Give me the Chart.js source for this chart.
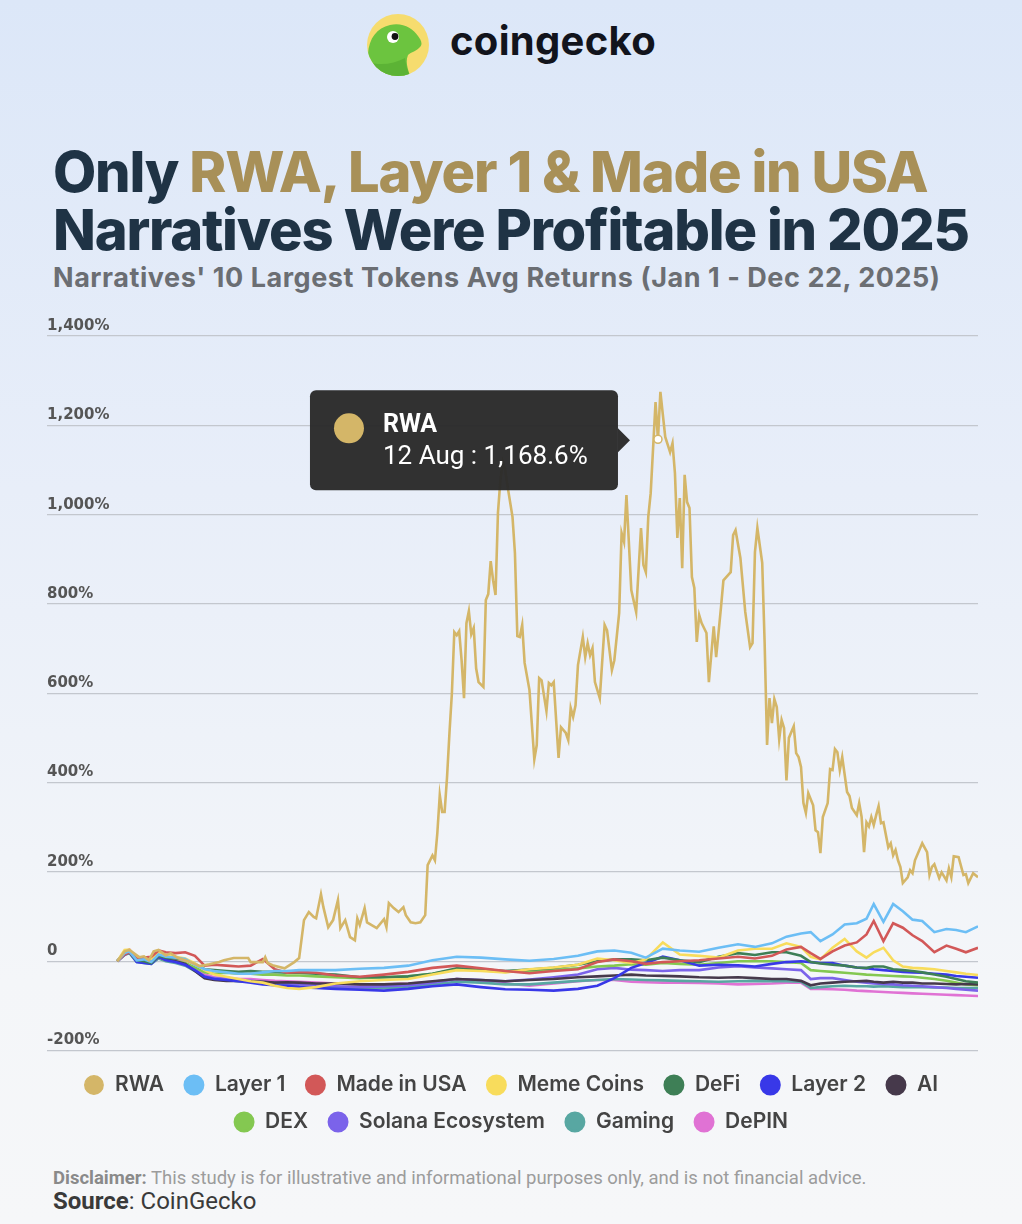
<!DOCTYPE html>
<html>
<head>
<meta charset="utf-8">
<script src="https://cdn.jsdelivr.net/npm/chart.js@4.4.1/dist/chart.umd.min.js"></script>
<style>
  html, body { margin: 0; padding: 0; }
  body {
    width: 1022px; height: 1224px; position: relative; overflow: hidden;
    background: linear-gradient(180deg, #dce7f8 0%, #e8eef9 40%, #f4f6f9 80%, #f6f7f9 100%);
    font-family: Inter, "Noto Sans", sans-serif;
  }
  .logo { position: absolute; left: 357px; top: 5px; }
  .brand { position: absolute; left: 450px; top: 17px; font: 700 40px/48px Inter; color: #12141c; letter-spacing: 0.3px; }
  h1 { position: absolute; left: 53px; top: 143px; margin: 0; font: 800 56px/58px Inter; color: #1f3345; letter-spacing: -1.2px; white-space: nowrap; }
  h1 .gold { color: #a89058; }
  .sub { position: absolute; left: 53px; top: 263px; font: 700 27px/30px Inter; color: #6b6e73; letter-spacing: 0.55px; white-space: nowrap; }
  #wrap { position: absolute; left: 0; top: 300px; width: 1022px; height: 860px; }
  .disc { position: absolute; left: 53px; top: 1167px; font: 18.5px/22px Roboto; color: #9c9c9c; white-space: nowrap; }
  .disc b { color: #8a8a8a; }
  .src { position: absolute; left: 53px; top: 1188px; font: 24px/26px Roboto; color: #3a3a3a; }
</style>
</head>
<body>
<svg class="logo" width="80" height="80" viewBox="357 5 80 80">
  <defs><clipPath id="cc"><circle cx="398" cy="45" r="31"/></clipPath></defs>
  <circle cx="398" cy="45" r="31" fill="#f6dc6e"/>
  <g clip-path="url(#cc)">
    <path d="M368 54 C369 38 377 28 390 25 C402 22 413 28 418 36 C421 40 423 44 420 47 C417 51 411 52 408 55 C405 62 408 70 411 78 C396 84 378 80 368 68 Z" fill="#6cc43f"/>
    <path d="M368 62 C380 66 394 64 405 58 C406 66 408 72 411 78 C396 84 378 80 368 68 Z" fill="#5cb335"/>
  </g>
  <circle cx="393" cy="37" r="6" fill="#fff"/>
  <circle cx="395" cy="36.5" r="3.4" fill="#111"/>
</svg>
<div class="brand">coingecko</div>
<h1>Only <span class="gold">RWA, Layer 1 &amp; Made in USA</span><br>Narratives Were Profitable in 2025</h1>
<div class="sub">Narratives' 10 Largest Tokens Avg Returns (Jan 1 - Dec 22, 2025)</div>
<div id="wrap"><canvas id="chart"></canvas></div>
<div class="disc"><b>Disclaimer:</b> This study is for illustrative and informational purposes only, and is not financial advice.</div>
<div class="src"><b>Source</b>: CoinGecko</div>
<script>
// days since Jan 1, 2025 ; values in % return
const rwaDays = [0,3,5,9,11,13,15,17,20,22,25,28,31,34,38,42,44,48,54,55,60,61,62,64,69,73,75,77,79,81,82,84,85,87,89,91,92,94,96,98,99,100,102,103,107,110,111,112,114,116,118,119,121,123,125,127,128,130,131,132,133,134,135,136,137,138,139,140,141,142,143,144,145,146,147,148,149,151,152,153,154,155,156,157,158,159,160,161,163,164,165,166,167,168,170,172,173,174,175,177,178,179,180,182,183,185,186,187,188,189,190,192,193,194,195,196,197,199,201,202,204,205,207,208,209,210,212,214,216,217,218,219,220,222,223,224,226,228,229,230,231,232,233,234,235,236,237,238,239,240,241,243,244,246,247,249,250,252,253,254,255,257,259,261,262,263,264,266,267,268,269,270,271,272,273,274,275,276,277,279,280,281,282,283,284,285,287,288,289,290,291,293,294,295,296,297,298,299,301,302,303,305,306,307,308,309,310,311,312,313,314,315,316,318,319,320,321,322,323,324,326,327,328,329,332,334,335,336,337,339,340,342,343,344,345,347,349,350,351,353,355];
const rwaValues = [0,22,25,9,11,2,22,25,13,18,7,2,-4,-11,-7,-2,2,7,7,-2,-2,9,-4,-9,-16,-2,7,92,110,99,96,150,121,76,92,137,74,92,54,47,96,81,119,87,74,94,76,130,119,110,121,103,87,85,87,103,215,237,226,287,372,334,334,412,511,600,737,730,739,674,589,757,784,732,746,656,625,614,809,822,896,853,820,1004,1077,1118,1100,1062,995,914,728,726,753,668,607,452,484,634,629,560,623,618,625,455,524,511,495,567,547,573,663,726,681,712,685,701,625,589,753,741,652,674,780,959,939,1044,831,782,970,887,871,995,1048,1252,1168.6,1275,1174,1140,1160,1093,948,1037,880,1089,1028,1015,860,836,715,775,757,735,625,750,681,793,853,865,871,954,965,903,782,703,712,916,970,892,712,484,589,533,587,569,497,540,522,405,500,526,466,457,435,354,332,376,349,293,289,242,323,354,430,428,475,468,428,457,379,370,343,327,354,323,244,311,302,323,305,327,347,309,311,255,264,237,249,226,211,175,188,204,197,226,264,244,193,211,217,186,199,181,208,188,235,233,193,195,175,197,188];

const gridDays = [0,3,5,8,11,14,17,20,24,28,32,36,40,45,50,55,60,65,70,75,82,90,100,110,120,130,140,150,160,170,180,190,198,205,212,218,225,232,240,248,256,263,270,276,282,286,290,295,300,305,309,312,316,320,324,328,332,337,342,346,350,355];
const layer1 = [0,18,22,2,4,-2,15,10,8,5,-8,-18,-22,-25,-28,-28,-25,-22,-22,-20,-20,-20,-17,-15,-10,2,10,8,4,1,5,12,22,24,19,8,28,24,21,30,38,32,40,55,62,65,45,60,82,85,95,128,88,128,112,93,90,65,72,70,65,78];
const madeInUsa = [0,15,20,5,8,10,24,20,18,20,12,-10,-8,-10,-12,-10,5,-18,-26,-24,-26,-32,-35,-30,-24,-15,-10,-16,-22,-27,-22,-18,-2,4,0,-6,-2,0,2,6,10,6,12,26,32,18,5,22,35,42,60,90,45,85,75,58,45,20,35,28,20,30];
const memeCoins = [0,25,26,8,6,4,20,14,10,6,-5,-20,-30,-35,-40,-45,-48,-55,-60,-62,-58,-50,-45,-42,-40,-30,-20,-22,-25,-18,-14,-8,6,2,-4,4,42,15,12,8,24,28,28,40,32,10,4,30,50,22,8,20,30,2,-12,-15,-16,-18,-22,-25,-28,-31];
const defi = [0,18,20,2,0,-4,12,8,6,4,-6,-18,-20,-22,-24,-22,-24,-24,-26,-26,-28,-30,-36,-36,-34,-28,-16,-18,-22,-19,-15,-8,0,4,4,2,8,2,-2,10,18,14,20,20,12,-2,-5,-8,-10,-14,-15,-12,-12,-18,-20,-22,-25,-30,-35,-40,-45,-48];
const layer2 = [0,15,20,-2,-4,-6,10,2,-2,-8,-20,-35,-40,-42,-45,-48,-52,-54,-55,-58,-60,-62,-64,-66,-62,-56,-52,-58,-63,-64,-66,-62,-55,-38,-15,-4,10,2,-10,-8,-9,-12,-6,-2,0,-2,-4,-4,-10,-14,-16,-18,-20,-22,-24,-25,-26,-28,-30,-33,-35,-37];
const ai = [0,20,22,4,2,-2,10,4,0,-6,-22,-38,-42,-44,-44,-45,-46,-48,-47,-48,-50,-50,-52,-52,-50,-45,-40,-42,-45,-42,-40,-36,-34,-32,-30,-32,-33,-34,-36,-37,-36,-38,-40,-40,-44,-54,-50,-48,-46,-45,-44,-46,-48,-46,-48,-48,-50,-50,-51,-52,-51,-52];
const dex = [0,18,20,0,-2,-4,8,2,0,-4,-14,-25,-28,-26,-28,-28,-30,-30,-32,-32,-34,-36,-38,-36,-34,-28,-18,-20,-24,-22,-20,-16,-12,-10,-7,-8,-4,-6,-8,-4,0,0,0,-2,-4,-20,-22,-24,-26,-28,-30,-31,-32,-33,-34,-35,-37,-40,-44,-48,-52,-54];
const solana = [0,16,22,2,0,-4,8,2,-2,-8,-20,-34,-38,-40,-42,-44,-46,-48,-50,-52,-54,-56,-58,-56,-54,-48,-40,-42,-45,-41,-36,-30,-18,-15,-19,-20,-22,-20,-20,-14,-11,-14,-16,-18,-20,-40,-38,-38,-42,-46,-48,-50,-51,-52,-54,-55,-56,-58,-60,-62,-64,-66];
const gaming = [0,14,18,-2,-4,-6,6,0,-4,-10,-22,-36,-40,-42,-45,-46,-48,-50,-52,-54,-56,-58,-60,-60,-58,-52,-46,-48,-52,-52,-48,-44,-42,-40,-41,-42,-43,-44,-45,-46,-45,-44,-45,-45,-46,-60,-58,-56,-55,-56,-56,-57,-56,-57,-58,-58,-58,-59,-59,-60,-60,-60];
const depin = [0,22,26,6,2,0,14,6,2,-4,-16,-30,-36,-38,-40,-40,-42,-44,-45,-46,-48,-50,-52,-52,-50,-46,-40,-44,-50,-55,-50,-45,-42,-42,-46,-47,-48,-48,-49,-50,-52,-51,-50,-48,-48,-62,-62,-63,-64,-66,-67,-68,-69,-70,-71,-72,-73,-74,-75,-76,-77,-78];

const seriesNames = ['RWA', 'Layer 1', 'Made in USA', 'Meme Coins', 'DeFi', 'Layer 2', 'AI', 'DEX', 'Solana Ecosystem', 'Gaming', 'DePIN'];
const seriesColors = ['#d4b668', '#6cbef5', '#d25858', '#f8dc5c', '#3e7f56', '#3838e8', '#46394b', '#84c851', '#7b63ea', '#58a7a2', '#e072d4'];
const otherSeries = [layer1, madeInUsa, memeCoins, defi, layer2, ai, dex, solana, gaming, depin];
const yTicks = [-200, 0, 200, 400, 600, 800, 1000, 1200, 1400];

const tipDay = 223;
const tipIndex = rwaDays.indexOf(tipDay);

const datasets = [{
  label: seriesNames[0],
  data: rwaDays.map((d, i) => ({ x: d, y: rwaValues[i] })),
  borderColor: seriesColors[0],
  backgroundColor: seriesColors[0],
  borderWidth: 2.6,
  pointRadius: c => c.dataIndex === tipIndex ? 4 : 0,
  pointBackgroundColor: '#fff',
  pointBorderColor: seriesColors[0],
  pointBorderWidth: 1.5
}];
otherSeries.forEach((vals, k) => {
  datasets.push({
    label: seriesNames[k + 1],
    data: gridDays.map((d, i) => ({ x: d, y: vals[i] })),
    borderColor: seriesColors[k + 1],
    backgroundColor: seriesColors[k + 1],
    borderWidth: 2.6,
    pointRadius: 0
  });
});

function fmtPct(v) {
  return v.toLocaleString('en-US', { minimumFractionDigits: 1, maximumFractionDigits: 1 }) + '%';
}
function fmtDay(d) {
  const dt = new Date(2025, 0, 1 + d);
  return dt.getDate() + ' ' + dt.toLocaleString('en-US', { month: 'short' });
}

// fixed tooltip for the highlighted RWA point
const fixedTip = {
  id: 'fixedTip',
  afterDatasetsDraw(chart) {
    const pt = chart.getDatasetMeta(0).data[tipIndex];
    if (!pt) return;
    const ctx = chart.ctx;
    const w = 308, h = 100;
    const bx = pt.x - 40 - w, by = pt.y + 1 - h / 2;
    ctx.save();
    ctx.fillStyle = 'rgba(42,42,42,0.97)';
    ctx.beginPath();
    ctx.roundRect(bx, by, w, h, 6);
    ctx.fill();
    ctx.beginPath();
    ctx.moveTo(bx + w, by + h / 2 - 12);
    ctx.lineTo(bx + w + 12, by + h / 2);
    ctx.lineTo(bx + w, by + h / 2 + 12);
    ctx.closePath();
    ctx.fill();
    ctx.fillStyle = seriesColors[0];
    ctx.beginPath();
    ctx.arc(bx + 39, by + 38, 15, 0, Math.PI * 2);
    ctx.fill();
    ctx.fillStyle = '#fff';
    ctx.textBaseline = 'middle';
    ctx.textAlign = 'left';
    ctx.font = 'bold 25px Roboto';
    ctx.fillText(seriesNames[0], bx + 73, by + 35);
    ctx.font = '26px Roboto';
    ctx.fillText(fmtDay(tipDay) + ' : ' + fmtPct(rwaValues[tipIndex]), bx + 73, by + 67);
    ctx.restore();
  }
};

new Chart(document.getElementById('chart'), {
  type: 'line',
  data: { datasets },
  plugins: [fixedTip],
  options: {
    responsive: true,
    maintainAspectRatio: false,
    animation: false,
    layout: { padding: { left: 47, right: 44, top: 36, bottom: 17.5 } },
    elements: { line: { tension: 0 } },
    scales: {
      x: { type: 'linear', min: -29, max: 355, display: false },
      y: {
        min: yTicks[0],
        max: yTicks[yTicks.length - 1],
        afterBuildTicks: s => { s.ticks = yTicks.map(v => ({ value: v })); },
        border: { display: false },
        grid: { color: '#c3c7ce', lineWidth: 1.2, drawTicks: false },
        ticks: {
          mirror: true,
          padding: 0,
          labelOffset: -10,
          color: '#555',
          font: { family: 'DejaVu Sans', weight: 'bold', size: 15 },
          callback: v => v === 0 ? '0' : v.toLocaleString('en-US') + '%'
        }
      }
    },
    plugins: {
      tooltip: { enabled: false },
      legend: {
        position: 'bottom',
        align: 'center',
        title: { display: true, text: ' ', padding: 0, font: { size: 8, lineHeight: 1 } },
        labels: {
          usePointStyle: true,
          pointStyle: 'circle',
          boxWidth: 21,
          boxHeight: 13,
          padding: 16,
          color: '#444',
          font: { family: 'Inter', size: 21, weight: '600' },
          generateLabels: chart => Chart.defaults.plugins.legend.labels.generateLabels(chart)
            .map(item => Object.assign(item, {
              text: item.text + '\u2009',
              fillStyle: seriesColors[item.datasetIndex],
              strokeStyle: seriesColors[item.datasetIndex]
            }))
        }
      }
    }
  }
});
</script>
</body>
</html>
